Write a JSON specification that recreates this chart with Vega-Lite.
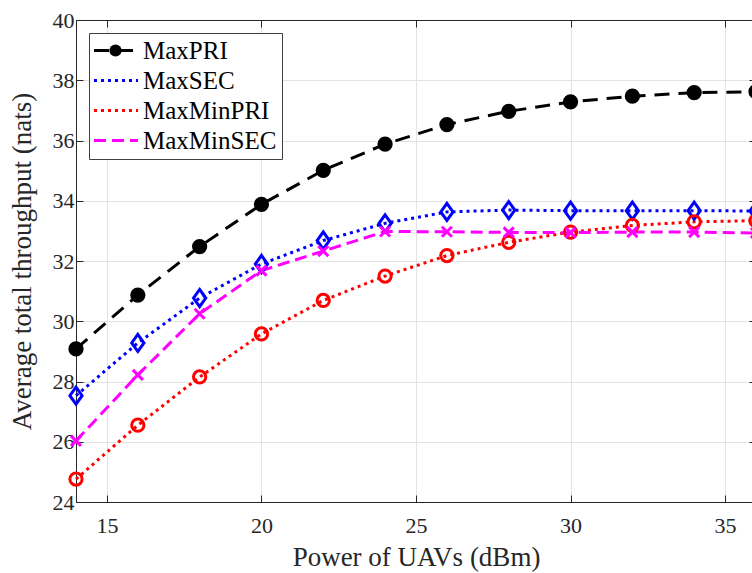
{
  "$schema": "https://vega.github.io/schema/vega-lite/v6.json",
  "width": 680,
  "height": 482,
  "autosize": {"type": "none"},
  "padding": {"left": 76, "top": 20, "right": 0, "bottom": 71},
  "background": "white",
  "config": {
    "font": "Liberation Serif",
    "view": {"stroke": "#404040", "strokeWidth": 1},
    "axis": {
      "labelFont": "Liberation Serif",
      "titleFont": "Liberation Serif",
      "labelFontSize": 22,
      "titleFontSize": 27,
      "titleFontWeight": "normal",
      "labelColor": "#262626",
      "titleColor": "#262626",
      "domainColor": "#262626",
      "tickColor": "#262626",
      "tickSize": -7,
      "gridColor": "#e3e3e3",
      "gridWidth": 1
    },
    "legend": {"labelFont": "Liberation Serif"}
  },
  "data": {
    "values": [
      {"p": 14, "series": "MaxPRI", "v": 29.08},
      {"p": 16, "series": "MaxPRI", "v": 30.87},
      {"p": 18, "series": "MaxPRI", "v": 32.48},
      {"p": 20, "series": "MaxPRI", "v": 33.88},
      {"p": 22, "series": "MaxPRI", "v": 35.01},
      {"p": 24, "series": "MaxPRI", "v": 35.88},
      {"p": 26, "series": "MaxPRI", "v": 36.53},
      {"p": 28, "series": "MaxPRI", "v": 36.97},
      {"p": 30, "series": "MaxPRI", "v": 37.28},
      {"p": 32, "series": "MaxPRI", "v": 37.47},
      {"p": 34, "series": "MaxPRI", "v": 37.59},
      {"p": 36, "series": "MaxPRI", "v": 37.62},
      {"p": 14, "series": "MaxSEC", "v": 27.53},
      {"p": 16, "series": "MaxSEC", "v": 29.28},
      {"p": 18, "series": "MaxSEC", "v": 30.77},
      {"p": 20, "series": "MaxSEC", "v": 31.9},
      {"p": 22, "series": "MaxSEC", "v": 32.68},
      {"p": 24, "series": "MaxSEC", "v": 33.25},
      {"p": 26, "series": "MaxSEC", "v": 33.63},
      {"p": 28, "series": "MaxSEC", "v": 33.69},
      {"p": 30, "series": "MaxSEC", "v": 33.67},
      {"p": 32, "series": "MaxSEC", "v": 33.67},
      {"p": 34, "series": "MaxSEC", "v": 33.67},
      {"p": 36, "series": "MaxSEC", "v": 33.66},
      {"p": 14, "series": "MaxMinPRI", "v": 24.76},
      {"p": 16, "series": "MaxMinPRI", "v": 26.55},
      {"p": 18, "series": "MaxMinPRI", "v": 28.15},
      {"p": 20, "series": "MaxMinPRI", "v": 29.58},
      {"p": 22, "series": "MaxMinPRI", "v": 30.69},
      {"p": 24, "series": "MaxMinPRI", "v": 31.5},
      {"p": 26, "series": "MaxMinPRI", "v": 32.18},
      {"p": 28, "series": "MaxMinPRI", "v": 32.62},
      {"p": 30, "series": "MaxMinPRI", "v": 32.96},
      {"p": 32, "series": "MaxMinPRI", "v": 33.18},
      {"p": 34, "series": "MaxMinPRI", "v": 33.3},
      {"p": 36, "series": "MaxMinPRI", "v": 33.34},
      {"p": 14, "series": "MaxMinSEC", "v": 26.03},
      {"p": 16, "series": "MaxMinSEC", "v": 28.22},
      {"p": 18, "series": "MaxMinSEC", "v": 30.25},
      {"p": 20, "series": "MaxMinSEC", "v": 31.68},
      {"p": 22, "series": "MaxMinSEC", "v": 32.33},
      {"p": 24, "series": "MaxMinSEC", "v": 32.98},
      {"p": 26, "series": "MaxMinSEC", "v": 32.97},
      {"p": 28, "series": "MaxMinSEC", "v": 32.95},
      {"p": 30, "series": "MaxMinSEC", "v": 32.94},
      {"p": 32, "series": "MaxMinSEC", "v": 32.96},
      {"p": 34, "series": "MaxMinSEC", "v": 32.96},
      {"p": 36, "series": "MaxMinSEC", "v": 32.93}
    ]
  },
  "layer": [
    {
      "mark": {"type": "line", "strokeWidth": 3, "strokeCap": "butt"},
      "encoding": {
        "x": {
          "field": "p", "type": "quantitative",
          "scale": {"domain": [14, 36], "nice": false, "zero": false},
          "axis": {"orient": "bottom", "title": "Power of UAVs (dBm)", "values": [15, 20, 25, 30, 35], "labelPadding": 20, "titlePadding": 8, "grid": true}
        },
        "y": {
          "field": "v", "type": "quantitative",
          "scale": {"domain": [24, 40], "nice": false, "zero": false},
          "axis": {"orient": "left", "title": "Average total throughput (nats)", "values": [24, 26, 28, 30, 32, 34, 36, 38, 40], "labelPadding": 9, "titlePadding": 16, "grid": true}
        },
        "color": {
          "field": "series", "type": "nominal",
          "scale": {"domain": ["MaxPRI", "MaxSEC", "MaxMinPRI", "MaxMinSEC"], "range": ["#000000", "#0000ff", "#ff0000", "#ff00ff"]},
          "legend": null
        },
        "strokeDash": {
          "field": "series", "type": "nominal",
          "scale": {"domain": ["MaxPRI", "MaxSEC", "MaxMinPRI", "MaxMinSEC"], "range": [[15, 9], [3, 4], [3, 4], [12, 6]]},
          "legend": {
            "title": null, "orient": "top-left", "offset": 13,
            "symbolType": "M-4.4,0L4.4,0", "symbolSize": 100, "symbolStrokeWidth": 3, "symbolOffset": 9.5,
            "labelFontSize": 25, "labelColor": "#000000", "labelOffset": 14.5, "labelLimit": 300,
            "padding": 5, "rowPadding": 4, "fillColor": "white", "strokeColor": "#404040", "zindex": 1,
            "encode": {"symbols": {"update": {
              "stroke": {"signal": "datum.value === 'MaxPRI' ? '#000000' : datum.value === 'MaxSEC' ? '#0000ff' : datum.value === 'MaxMinPRI' ? '#ff0000' : '#ff00ff'"},
              "opacity": {"value": 1}
            }}}
          }
        }
      }
    },
    {
      "mark": {"type": "point", "filled": false, "strokeWidth": 3, "opacity": 1, "size": 150},
      "encoding": {
        "x": {
          "field": "p", "type": "quantitative",
          "scale": {"domain": [14, 36], "nice": false, "zero": false},
          "axis": {"orient": "top", "title": null, "labels": false, "grid": false, "values": [15, 20, 25, 30, 35]}
        },
        "y": {
          "field": "v", "type": "quantitative",
          "scale": {"domain": [24, 40], "nice": false, "zero": false},
          "axis": {"orient": "right", "title": null, "labels": false, "grid": false, "values": [24, 26, 28, 30, 32, 34, 36, 38, 40]}
        },
        "color": {
          "field": "series", "type": "nominal",
          "scale": {"domain": ["MaxPRI", "MaxSEC", "MaxMinPRI", "MaxMinSEC"], "range": ["#000000", "#0000ff", "#ff0000", "#ff00ff"]},
          "legend": {
            "title": null, "orient": "none", "legendX": 22, "legendY": 13,
            "symbolSize": 150, "symbolStrokeWidth": 3, "symbolOpacity": 1,
            "labelFontSize": 25, "labelExpr": "''", "labelOffset": 7,
            "padding": 5, "rowPadding": 4, "zindex": 2,
            "encode": {"symbols": {"update": {
              "fill": {"signal": "datum.value === 'MaxPRI' ? '#000000' : 'transparent'"},
              "opacity": {"value": 1}
            }}}
          }
        },
        "shape": {
          "field": "series", "type": "nominal",
          "scale": {"domain": ["MaxPRI", "MaxSEC", "MaxMinPRI", "MaxMinSEC"], "range": ["circle", "M0,-1.4L1,0L0,1.4L-1,0Z", "circle", "M-0.82,-0.82L0.82,0.82M0.82,-0.82L-0.82,0.82"]},
          "legend": {
            "title": null, "orient": "none", "legendX": 22, "legendY": 13,
            "symbolSize": 150, "symbolStrokeWidth": 3, "symbolOpacity": 1,
            "labelFontSize": 25, "labelExpr": "''", "labelOffset": 7,
            "padding": 5, "rowPadding": 4, "zindex": 2,
            "encode": {"symbols": {"update": {
              "fill": {"signal": "datum.value === 'MaxPRI' ? '#000000' : 'transparent'"},
              "opacity": {"value": 1}
            }}}
          }
        },
        "fill": {
          "field": "series", "type": "nominal",
          "scale": {"domain": ["MaxPRI", "MaxSEC", "MaxMinPRI", "MaxMinSEC"], "range": ["#000000", "transparent", "transparent", "transparent"]},
          "legend": null
        }
      }
    }
  ],
  "resolve": {"axis": {"x": "independent", "y": "independent"}}
}
